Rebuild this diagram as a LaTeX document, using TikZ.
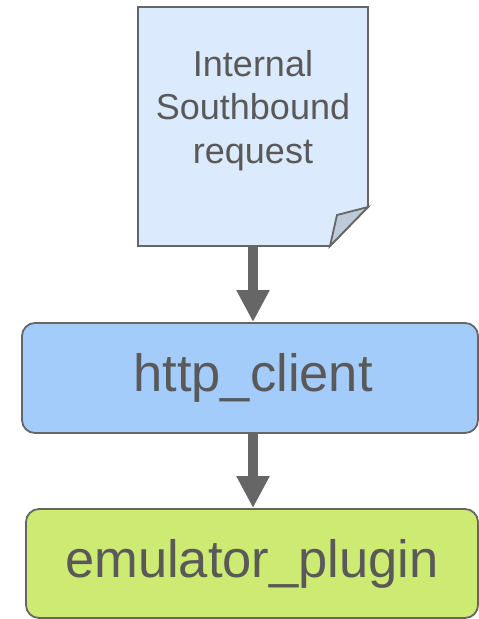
\documentclass[tikz,border=0pt]{standalone}
\usepackage{fontspec}
\setmainfont{Liberation Sans}
\usetikzlibrary{arrows.meta, positioning}

\definecolor{paperfill}{HTML}{DBEAFD}
\definecolor{foldfill}{HTML}{BDCAD9}
\definecolor{clientfill}{HTML}{A4CCFB}
\definecolor{pluginfill}{HTML}{CDEA72}
\definecolor{edgegray}{HTML}{666666}
\definecolor{labelgray}{HTML}{595959}

\begin{document}
\begin{tikzpicture}[x=1pt, y=-1pt,
  paper/.style={rectangle, draw=none, outer sep=0pt, minimum width=230pt, minimum height=239pt},
  papertext/.style={text=labelgray, align=center, font=\fontsize{36}{43.5}\selectfont, inner sep=0pt},
  stage/.style={rectangle, rounded corners=13pt, draw=edgegray, line width=1.8pt,
    text=labelgray, font=\fontsize{52.5}{60}\selectfont, inner sep=0pt},
  flow/.style={draw=edgegray, line width=10pt, -{Triangle[length=32pt, width=31pt]}}]
\useasboundingbox (0,0) rectangle (479,619);

% request sheet with a folded corner
\node[paper] (req) at (253,126.5) {};
\filldraw[fill=paperfill, draw=edgegray, line width=1.8pt]
  (req.north west) -- (req.north east) -- ([yshift=39pt]req.south east)
  -- ([xshift=-38pt]req.south east) -- (req.south west) -- cycle;
\filldraw[fill=foldfill, draw=edgegray, line width=1.8pt]
  ([yshift=39pt]req.south east) -- ([xshift=-31pt, yshift=31pt]req.south east)
  -- ([xshift=-38pt]req.south east) -- cycle;
\node[papertext] (reqtext) at ([yshift=16pt]req.center) {Internal\\Southbound\\request};

% processing stages
\node[stage, fill=clientfill, minimum width=456pt, minimum height=110pt] (client) at (250,378) {\hspace*{6pt}http\_client};
\node[stage, fill=pluginfill, minimum width=452pt, minimum height=109pt] (plugin) at (252,563.5) {emulator\_plugin};

% connectors
\draw[flow] (req.south) -- (req.south |- client.north);
\draw[flow] (req.south |- client.south) -- (req.south |- plugin.north);
\end{tikzpicture}
\end{document}
